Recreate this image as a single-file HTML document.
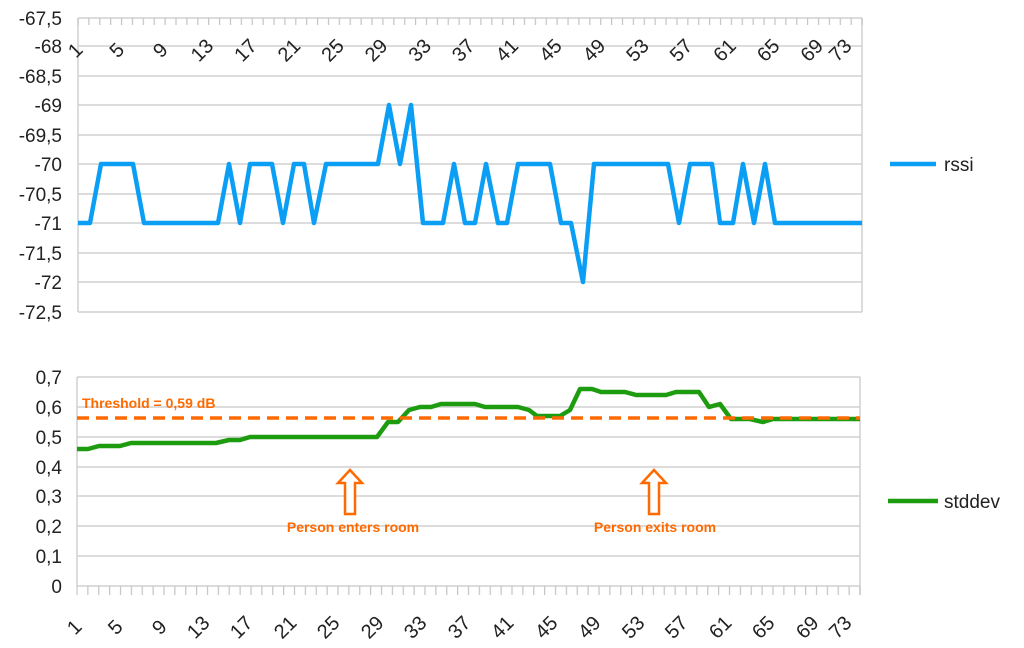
<!DOCTYPE html>
<html><head><meta charset="utf-8"><style>
html,body{margin:0;padding:0;background:#fff;}
svg{display:block;font-family:"Liberation Sans",sans-serif;}
</style></head><body>
<svg width="1024" height="648" xmlns="http://www.w3.org/2000/svg">
<defs>
<pattern id="tp" x="77.4" y="18" width="10.89" height="7" patternUnits="userSpaceOnUse"><rect width="1.2" height="7" fill="#c4c4c4"/></pattern>
<pattern id="bp" x="76.4" y="586" width="10.875" height="9" patternUnits="userSpaceOnUse"><rect width="1.2" height="9" fill="#c4c4c4"/></pattern>
</defs>
<g stroke="#d0d0d0" stroke-width="1.5">
<line x1="78" y1="18" x2="862" y2="18"/><line x1="78" y1="46" x2="862" y2="46"/>
<line x1="78" y1="76" x2="862" y2="76"/><line x1="78" y1="105" x2="862" y2="105"/>
<line x1="78" y1="135" x2="862" y2="135"/><line x1="78" y1="164" x2="862" y2="164"/>
<line x1="78" y1="194" x2="862" y2="194"/><line x1="78" y1="223" x2="862" y2="223"/>
<line x1="78" y1="253" x2="862" y2="253"/><line x1="78" y1="282" x2="862" y2="282"/>
<line x1="78" y1="312" x2="862" y2="312"/>
<line x1="78" y1="18" x2="78" y2="312"/><line x1="862" y1="18" x2="862" y2="312"/>
<line x1="77" y1="377" x2="860" y2="377"/><line x1="77" y1="407" x2="860" y2="407"/>
<line x1="77" y1="437" x2="860" y2="437"/><line x1="77" y1="467" x2="860" y2="467"/>
<line x1="77" y1="496" x2="860" y2="496"/><line x1="77" y1="526" x2="860" y2="526"/>
<line x1="77" y1="556" x2="860" y2="556"/><line x1="77" y1="586" x2="860" y2="586"/>
<line x1="77" y1="377" x2="77" y2="586"/><line x1="860" y1="377" x2="860" y2="595"/>
</g>
<rect x="77.4" y="18" width="786" height="7" fill="url(#tp)"/>
<rect x="76.4" y="586" width="785" height="9" fill="url(#bp)"/>
<g font-size="19" fill="#222" text-anchor="end">
<text x="62" y="25">-67,5</text><text x="62" y="53">-68</text><text x="62" y="83">-68,5</text>
<text x="62" y="112">-69</text><text x="62" y="142">-69,5</text><text x="62" y="171">-70</text>
<text x="62" y="201">-70,5</text><text x="62" y="230">-71</text><text x="62" y="260">-71,5</text>
<text x="62" y="289">-72</text><text x="62" y="319">-72,5</text>
<text x="62" y="384">0,7</text><text x="62" y="414">0,6</text><text x="62" y="444">0,5</text>
<text x="62" y="474">0,4</text><text x="62" y="503">0,3</text><text x="62" y="533">0,2</text>
<text x="62" y="563">0,1</text><text x="62" y="593">0</text>
</g>
<g font-size="20" fill="#222" text-anchor="middle">
<text transform="translate(80,55) rotate(-45)">1</text>
<text transform="translate(121.6,55) rotate(-45)">5</text>
<text transform="translate(165.1,55) rotate(-45)">9</text>
<text transform="translate(206.7,55) rotate(-45)">13</text>
<text transform="translate(250.2,55) rotate(-45)">17</text>
<text transform="translate(293.8,55) rotate(-45)">21</text>
<text transform="translate(337.4,55) rotate(-45)">25</text>
<text transform="translate(380.9,55) rotate(-45)">29</text>
<text transform="translate(424.5,55) rotate(-45)">33</text>
<text transform="translate(468,55) rotate(-45)">37</text>
<text transform="translate(511.6,55) rotate(-45)">41</text>
<text transform="translate(555.2,55) rotate(-45)">45</text>
<text transform="translate(598.7,55) rotate(-45)">49</text>
<text transform="translate(642.3,55) rotate(-45)">53</text>
<text transform="translate(685.8,55) rotate(-45)">57</text>
<text transform="translate(729.4,55) rotate(-45)">61</text>
<text transform="translate(773,55) rotate(-45)">65</text>
<text transform="translate(816.5,55) rotate(-45)">69</text>
<text transform="translate(845,55) rotate(-45)">73</text>
</g>
<g font-size="20" fill="#222" text-anchor="middle">
<text transform="translate(79,632) rotate(-45)">1</text>
<text transform="translate(120,632) rotate(-45)">5</text>
<text transform="translate(164,632) rotate(-45)">9</text>
<text transform="translate(203,632) rotate(-45)">13</text>
<text transform="translate(246,632) rotate(-45)">17</text>
<text transform="translate(290,632) rotate(-45)">21</text>
<text transform="translate(333,632) rotate(-45)">25</text>
<text transform="translate(377,632) rotate(-45)">29</text>
<text transform="translate(420,632) rotate(-45)">33</text>
<text transform="translate(464,632) rotate(-45)">37</text>
<text transform="translate(507,632) rotate(-45)">41</text>
<text transform="translate(551,632) rotate(-45)">45</text>
<text transform="translate(594,632) rotate(-45)">49</text>
<text transform="translate(638,632) rotate(-45)">53</text>
<text transform="translate(681,632) rotate(-45)">57</text>
<text transform="translate(725,632) rotate(-45)">61</text>
<text transform="translate(768,632) rotate(-45)">65</text>
<text transform="translate(812,632) rotate(-45)">69</text>
<text transform="translate(845,632) rotate(-45)">73</text>
</g>
<polyline fill="none" stroke="#0a9ff5" stroke-width="4.5" stroke-linejoin="round" points="78,223 90,223 101,164 133,164 144,223 218,223 229,164 240,223 250,164 272,164 283,223 294,164 304,164 314,223 326,164 378,164 389,105 400,164 411,105 423,223 443,223 454,164 465,223 475,223 486,164 498,223 507,223 518,164 550,164 561,223 571,223 583,282 594,164 668,164 679,223 690,164 712,164 720,223 733,223 743,164 754,223 765,164 775,223 862,223"/>
<polyline fill="none" stroke="#1e9c10" stroke-width="4.5" stroke-linejoin="round" points="77,449 88,449 99,446 120,446 131,443 216,443 229,440 240,440 250,437 377,437 388,422 398,422 409,410 420,407 431,407 441,404 475,404 485,407 518,407 529,410 537,416 560,416 570,410 580,389 592,389 601,392 625,392 636,395 666,395 676,392 699,392 709,407 720,404 731,419 750,419 763,422 773,419 860,419"/>
<line x1="77" y1="418" x2="860" y2="418" stroke="#ff6a00" stroke-width="3.5" stroke-dasharray="12,7"/>
<text x="82" y="408" font-size="14" font-weight="bold" fill="#ff6a00">Threshold = 0,59 dB</text>
<g fill="#fff" stroke="#ff6a00" stroke-width="2.5">
<path d="M350,470 L362,483 L355,483 L355,514 L345,514 L345,483 L338,483 Z"/>
<path d="M654,470 L666,483 L659,483 L659,514 L649,514 L649,483 L642,483 Z"/>
</g>
<g font-size="14" font-weight="bold" fill="#ff6a00" text-anchor="middle">
<text x="353" y="532">Person enters room</text><text x="655" y="532">Person exits room</text>
</g>
<line x1="890" y1="164" x2="936" y2="164" stroke="#0a9ff5" stroke-width="4.5"/>
<text x="944" y="171" font-size="19" fill="#222">rssi</text>
<line x1="888" y1="501" x2="938" y2="501" stroke="#1e9c10" stroke-width="4.5"/>
<text x="944" y="508" font-size="19" fill="#222">stddev</text>
</svg>
</body></html>
